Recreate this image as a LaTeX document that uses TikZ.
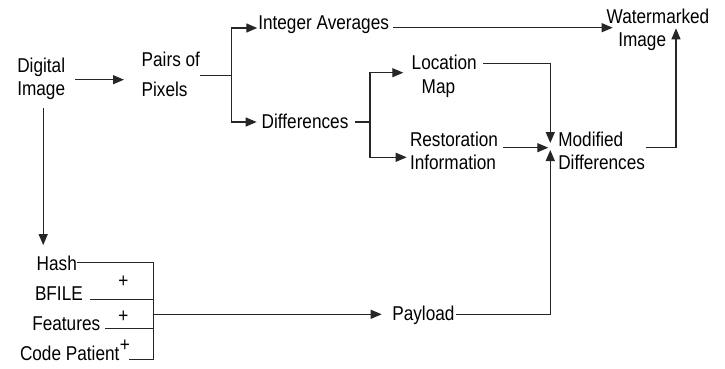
\documentclass[tikz,border=0pt]{standalone}
\usepackage{fontspec}
\setmainfont{Liberation Sans}[FakeStretch=0.86]
\usetikzlibrary{arrows.meta}
% left-aligned multi-line label whose baseline is that of its first line
\newcommand{\twoline}[1]{\begin{tabular}[t]{@{}l@{}}#1\end{tabular}}
\begin{document}
\begin{tikzpicture}[x=1pt,y=-1pt,
  lbl/.style={inner sep=0pt, outer sep=0pt, anchor=base west, font=\fontsize{20}{23.3}\selectfont},
  wire/.style={draw=black!85, line width=1.2pt},
  arr/.style={wire, -{Triangle[length=11pt,width=9pt]}},
  plus/.style={inner sep=0pt, outer sep=0pt, font=\fontsize{20}{22}\selectfont}]
\useasboundingbox (0,0) rectangle (725,369);

% labels
\node[lbl] (dig) at (17.3,72.7) {\twoline{Digital\\Image}};
\node[lbl, font=\fontsize{20}{29.3}\selectfont] (pairs) at (141.7,66.7) {\twoline{Pairs of\\Pixels}};
\node[lbl] (avg) at (258.3,29.3) {Integer Averages};
\node[lbl] (diff) at (261.7,128.3) {Differences};
\node[lbl, font=\fontsize{20}{24}\selectfont] (loc) at (411.7,69.3) {\twoline{Location\\\hspace*{10pt}Map}};
\node[lbl] (rest) at (410,146) {\twoline{Restoration\\Information}};
\node[lbl, font=\fontsize{20}{22.7}\selectfont] (wm) at (606.7,24) {\twoline{Watermarked\\\hspace*{11.6pt}Image}};
\node[lbl, font=\fontsize{20}{23}\selectfont] (mod) at (558.3,146) {\twoline{Modified\\Differences}};
\node[lbl] (hash) at (36.7,270) {Hash};
\node[lbl] (bfile) at (35,300) {BFILE};
\node[lbl] (feat) at (32.3,330.7) {Features};
\node[lbl] (code) at (20,360.7) {Code Patient};
\node[lbl] (pay) at (392.3,320) {Payload};
\node[plus] (plus1) at (123.3,281.7) {+};
\node[plus] (plus2) at (123.3,316.7) {+};
\node[plus] (plus3) at (125,346) {+};

% Digital Image -> Pairs of Pixels
\draw[arr, shorten <=10pt, shorten >=17.7pt] (dig.east) -- (dig.east -| pairs.west);

% Pairs of Pixels splits into averages and differences
\coordinate (fork1) at ([xshift=31.7pt]pairs.east);
\draw[wire] (pairs.east) -- (fork1);
\draw[arr] (fork1) |- ([xshift=-1pt,yshift=1.3pt]avg.base west);
\draw[arr] (fork1) |- ([xshift=-5pt,yshift=6.3pt]diff.base west);

% Integer Averages -> Watermarked Image
\coordinate (avgout) at ([xshift=4pt,yshift=1.6pt]avg.base east);
\draw[arr, shorten >=-6pt] (avgout) -- (avgout -| wm.base west);

% Differences split into location map and restoration information
\coordinate (diffout) at ([xshift=6.6pt,yshift=6.3pt]diff.base east);
\coordinate (fork2) at ([xshift=15pt]diffout);
\draw[wire] (diffout) -- (fork2);
\draw[arr] (fork2) |- ([xshift=-8.4pt,yshift=-3.4pt]loc.base west);
\draw[arr] (fork2) |- ([xshift=-3.3pt,yshift=-11.3pt]rest.base west);

% everything converging on Modified Differences
\draw[arr] ([xshift=6.6pt,yshift=6pt]loc.base east) -| ([xshift=-8pt,yshift=3pt]mod.base west);
\coordinate (restout) at ([xshift=5pt,yshift=-1.7pt]rest.base east);
\draw[arr, shorten >=10pt] (restout) -- (restout -| mod.base west);
\draw[arr] ([xshift=1.7pt,yshift=5.7pt]pay.base east) -| ([xshift=-8pt,yshift=-4pt]mod.base west);

% Modified Differences -> Watermarked Image
\draw[arr] ([xshift=0.7pt,yshift=-1.7pt]mod.base east) -| ([xshift=69.3pt,yshift=-4.3pt]wm.base west);

% Digital Image -> Hash
\coordinate (digdown) at ([xshift=2pt,yshift=-5pt]dig.south);
\draw[arr, shorten >=10.4pt] (digdown) -- (digdown |- hash.north);

% Hash + BFILE + Features + Code Patient -> Payload
\coordinate (payin) at ([xshift=-10.6pt,yshift=5.7pt]pay.base west);
\coordinate (jn) at ([xshift=-228.4pt]payin);
\draw[wire] ([xshift=0.6pt,yshift=7.3pt]hash.base east) -| (jn) |- ([xshift=10pt,yshift=1.4pt]code.base east);
\coordinate (bf) at ([xshift=7.6pt,yshift=0.7pt]bfile.base east);
\draw[wire] (bf) -- (bf -| jn);
\coordinate (ft) at ([xshift=5pt,yshift=2.4pt]feat.base east);
\draw[wire] (ft) -- (ft -| jn);
\draw[arr] (jn) -- (payin);
\end{tikzpicture}
\end{document}
